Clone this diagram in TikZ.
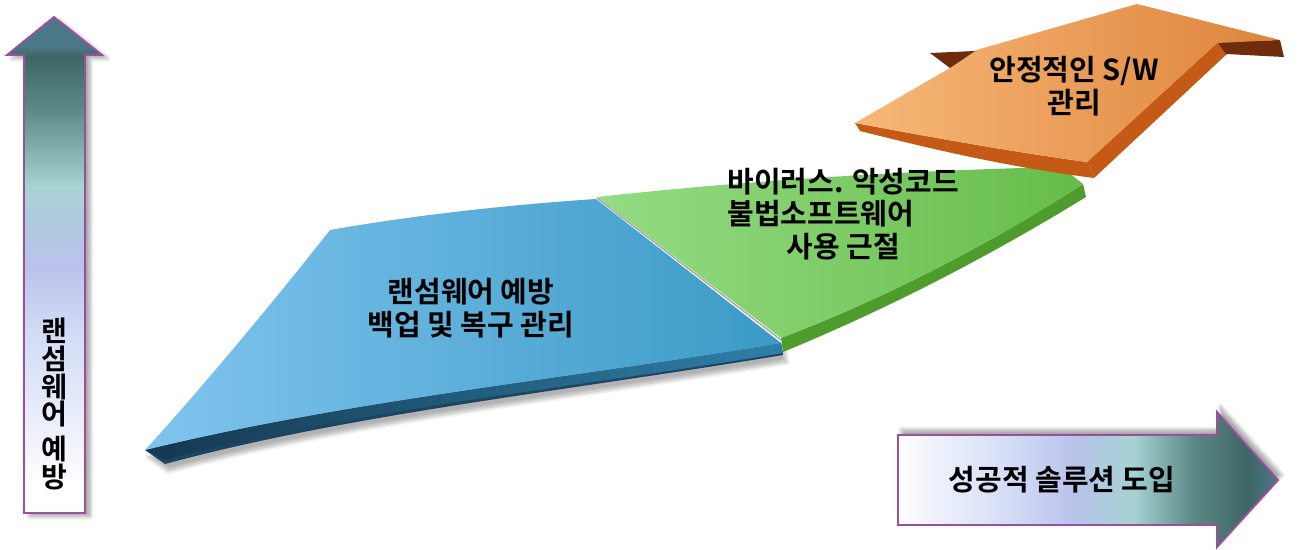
\documentclass[tikz,border=0pt]{standalone}
\usepackage{fontspec}
\setmainfont{Noto Sans CJK KR}[BoldFont={Noto Sans CJK KR Bold}]
\usetikzlibrary{shadows.blur}
\definecolor{purp}{HTML}{9B4F9C}
\definecolor{ctop}{HTML}{4B7886}
\definecolor{cdark}{HTML}{3D6664}
\definecolor{cteal}{HTML}{5A8784}
\definecolor{clteal}{HTML}{A6D3D3}
\definecolor{clav}{HTML}{BAC2EC}
\definecolor{cpale}{HTML}{D2DCF5}
\definecolor{cvpale}{HTML}{EEF1FB}
\definecolor{bluel}{HTML}{80C4EE}
\definecolor{bluer}{HTML}{3A9BC6}
\definecolor{bluedk}{HTML}{1B4563}
\definecolor{bluedk2}{HTML}{2F7FA8}
\definecolor{greenl}{HTML}{95DC85}
\definecolor{greenr}{HTML}{66BC48}
\definecolor{greendk}{HTML}{4E9C2C}
\definecolor{orl}{HTML}{F7B878}
\definecolor{orr}{HTML}{DE843C}
\definecolor{ordk}{HTML}{C45A16}
\definecolor{orvdk}{HTML}{6E2C0C}
\pgfdeclareverticalshading{leftarr}{100bp}{color(0bp)=(white); color(28bp)=(white); color(33bp)=(cvpale); color(43bp)=(cpale); color(50bp)=(clav); color(58bp)=(clteal); color(66bp)=(cteal); color(71bp)=(cdark); color(72bp)=(ctop); color(100bp)=(ctop)}
\pgfdeclarehorizontalshading{botarr}{100bp}{color(0bp)=(white); color(25bp)=(white); color(30bp)=(cvpale); color(40bp)=(cpale); color(48bp)=(clav); color(56bp)=(clteal); color(64bp)=(cteal); color(71bp)=(cdark); color(75bp)=(ctop); color(100bp)=(ctop)}
\tikzset{
  arrbox/.style={draw=purp, line width=1.1pt},
  lbl/.style={font=\bfseries\fontsize{16.5}{18.5}\selectfont, text=black, inner sep=0pt},
  sep/.style={draw=gray!70, line width=0.8pt}
}
\begin{document}
\begin{tikzpicture}[x=0.02cm,y=-0.02cm]
\useasboundingbox (0,0) rectangle (1316,549);
% left vertical arrow
\shadedraw[arrbox, shading=leftarr, blur shadow={shadow xshift=3pt, shadow yshift=-2pt, shadow blur steps=6, shadow opacity=35}]
  (24,513) -- (24,55) -- (7,55) -- (54,17) -- (102,55) -- (85,55) -- (85,513) -- cycle;
\node[lbl, align=center, font=\bfseries\fontsize{16}{15.8}\selectfont] (vtext) at (54,404) {랜\\섬\\웨\\어\\[4pt]예\\방};
% bottom horizontal arrow
\shadedraw[arrbox, shading=botarr, blur shadow={shadow xshift=2pt, shadow yshift=3pt, shadow blur steps=6, shadow opacity=35}]
  (898,435) -- (1217,435) -- (1217,412) -- (1278,480) -- (1217,547) -- (1217,525) -- (898,525) -- cycle;
\node[lbl] (htext) at (1062,480) {성공적 솔루션 도입};
% blue segment
\fill[bluedk, blur shadow={shadow xshift=2pt, shadow yshift=-4pt, shadow blur steps=8, shadow opacity=30}]
  (145,450) .. controls (350,400) and (560,380) .. (781,343) -- (783,355)
  .. controls (560,392) and (350,414) .. (165,464) -- cycle;
\shade[left color=bluedk!80!black, right color=bluedk2]
  (145,450) .. controls (350,400) and (560,380) .. (781,343) -- (783,353)
  .. controls (560,390) and (350,410) .. (165,460) -- cycle;
\shade[left color=bluel, right color=bluer]
  (330,230) .. controls (420,214) and (520,204) .. (596,199) -- (781,343)
  .. controls (560,380) and (350,400) .. (145,450)
  .. controls (200,390) and (275,300) .. (330,230) -- cycle;
% green segment
\fill[greendk] (1083,184) -- (1086,197) .. controls (980,262) and (880,312) .. (783,352)
  -- (781,338) .. controls (880,300) and (980,250) .. (1083,184) -- cycle;
\shade[left color=greenl, right color=greenr]
  (597,197) .. controls (750,180) and (920,170) .. (1062,167) -- (1083,184)
  .. controls (980,250) and (880,300) .. (781,338) -- cycle;
\draw[sep] (597,198) -- (781,340);
% orange segment
\fill[ordk] (1087,162) -- (1094,178) .. controls (1000,166) and (920,146) .. (860,131) -- (855,123)
  .. controls (920,135) and (1000,150) .. (1087,162) -- cycle;
\fill[ordk] (1217,43) -- (1228,53) -- (1094,178) -- (1087,162) -- cycle;
\fill[orvdk] (1217,42) -- (1280,40) -- (1284,57) -- (1226,54) -- cycle;
\shade[left color=orl, right color=orr]
  (855,123) -- (950,68) -- (973,51) -- (1137,4) -- (1280,40) -- (1217,43) -- (1087,162)
  .. controls (1000,150) and (920,135) .. (855,123) -- cycle;
\fill[orvdk] (930,53) -- (975,51) -- (950,68) -- cycle;
% labels
\node[lbl, align=center] (bluetext) at (471,308) {랜섬웨어 예방\\백업 및 복구 관리};
\node[lbl, align=left, anchor=west] (greentext) at (727,214) {바이러스. 악성코드\\불법소프트웨어\\\hspace*{2.05em}사용 근절};
\node[lbl, align=center] (orangetext) at (1074,86) {안정적인 S/W\\관리};
\end{tikzpicture}
\end{document}
